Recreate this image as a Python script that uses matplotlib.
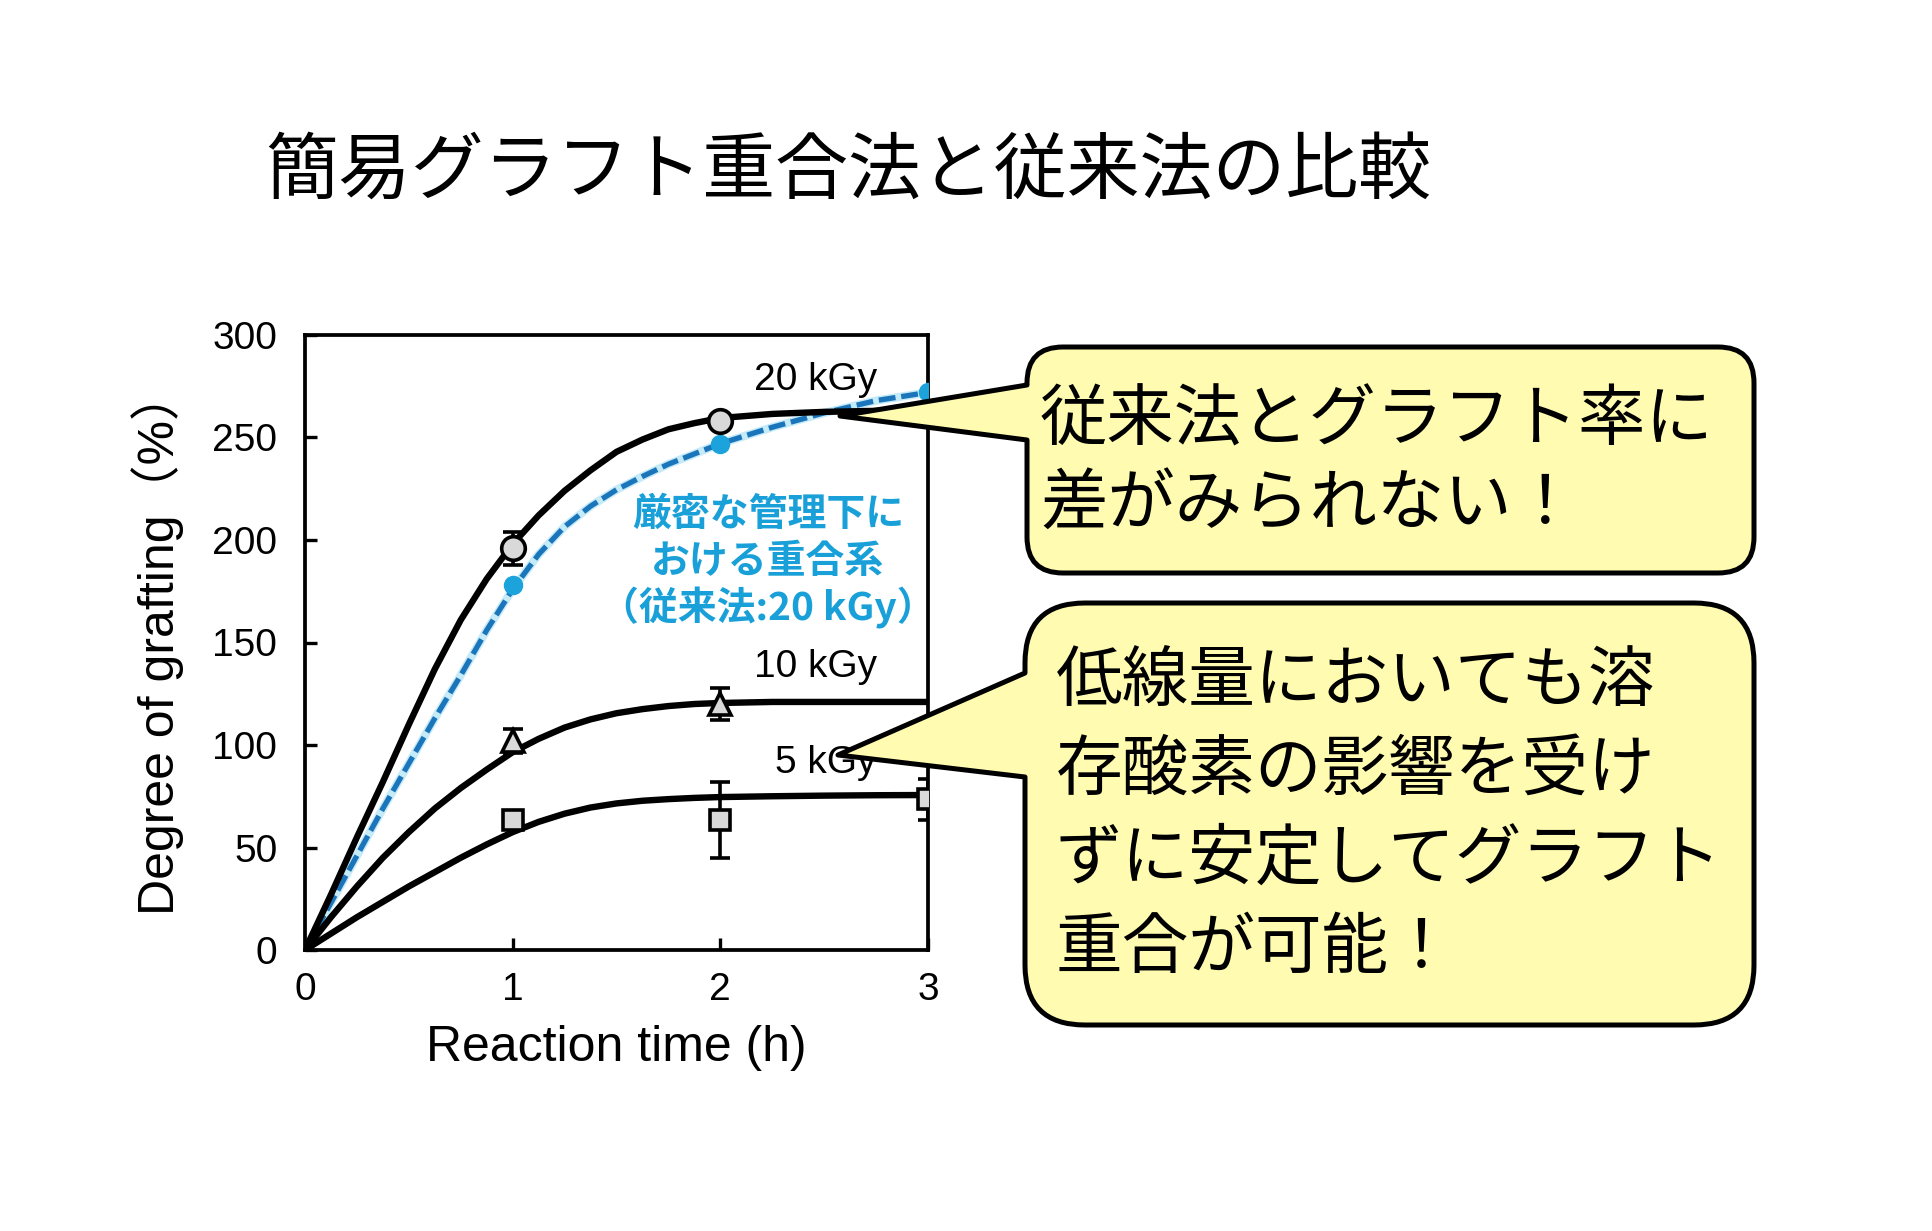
import numpy as np
import matplotlib
matplotlib.use("Agg")
import matplotlib.pyplot as plt
from matplotlib.path import Path
from matplotlib.patches import PathPatch

plt.rcParams['font.family'] = ['Liberation Sans', 'Noto Sans CJK JP', 'DejaVu Sans']

# measured points (h, %)
t20 = [1, 2]
g20 = [196, 258]
e20 = [8, 2]
t10 = [1, 2]
g10 = [102, 120]
e10 = [6, 8]
t5 = [1, 2, 3]
g5 = [63.5, 63.5, 73.5]
e5 = [2, 18.5, 10]
t_conv = [1, 2, 3]
g_conv = [178, 247, 272]

# fitted curves
curve_t = [0, 0.125, 0.25, 0.375, 0.5, 0.625, 0.75, 0.875, 1.0, 1.125, 1.25,
           1.375, 1.5, 1.625, 1.75, 1.875, 2.0, 2.25, 2.5, 2.75, 3.0]
fit20 = [0, 27, 55, 82, 110, 137, 161, 181, 198, 212, 224,
         234, 243, 249, 254, 257, 259.5, 261.5, 262.5, 263, 263]
fit_conv = [0, 23, 46, 69, 91, 113, 134, 156, 176, 193, 206.5,
            216.5, 224.5, 231, 237, 242, 247, 255, 262, 268, 272]
fit10 = [0, 16, 31, 45, 57.5, 69, 79, 88, 96.5, 103, 108.5,
         112.5, 115.5, 117.5, 119, 120, 120.5, 121, 121, 121, 121]
fit5 = [0, 8, 16, 23.5, 31, 38, 45, 51.5, 57.5, 62.5, 66.5,
        69.5, 71.5, 72.8, 73.6, 74.2, 74.6, 75, 75.3, 75.5, 75.6]

xticks = [0, 1, 2, 3]
yticks = [0, 50, 100, 150, 200, 250, 300]

title = "簡易グラフト重合法と従来法の比較"
note_blue = ["厳密な管理下に", "おける重合系", "（従来法:20 kGy）"]
box1_lines = ["従来法とグラフト率に", "差がみられない！"]
box2_lines = ["低線量においても溶", "存酸素の影響を受け", "ずに安定してグラフト", "重合が可能！"]

W, H = 1933, 1231
fig = plt.figure(figsize=(W / 100, H / 100), dpi=100)
ax = fig.add_axes([305 / W, 1 - 950 / H, 623 / W, 615 / H])

blue_line = '#1b75bb'
blue_dot = '#1ca3dc'
gray = '#d9d9d9'

ax.plot(curve_t, fit_conv, color='#c6ebf8', lw=6.0, solid_capstyle='butt', zorder=2)
ax.plot(curve_t, fit_conv, color=blue_line, lw=3.8, dashes=(3.2, 1.1), zorder=3)
for f in (fit20, fit10, fit5):
    ax.plot(curve_t, f, color='black', lw=4.6, solid_joinstyle='round', zorder=3)

ax.plot(t_conv, g_conv, 'o', color=blue_dot, ms=13, mec=blue_dot, zorder=4)
err_kw = dict(ecolor='black', elinewidth=2.6, capsize=7, capthick=2.6, ls='none',
              mfc=gray, mec='black', mew=2.6, zorder=5)
ax.errorbar(t20, g20, yerr=e20, fmt='o', ms=17, **err_kw)
ax.errorbar(t10, g10, yerr=e10, fmt='^', ms=16, **err_kw)
ax.errorbar(t5, g5, yerr=e5, fmt='s', ms=15, **err_kw)

ax.text(2.754, 278, "20 kGy", fontsize=28, ha='right', va='center')
ax.text(2.754, 138, "10 kGy", fontsize=28, ha='right', va='center')
ax.text(2.754, 91, "5 kGy", fontsize=28, ha='right', va='center')

ax.set_xlim(0, 3)
ax.set_ylim(0, 300)
ax.set_xticks(xticks)
ax.set_yticks(yticks)
ax.tick_params(direction='in', length=8.5, width=2.4, labelsize=28)
ax.tick_params(axis='x', pad=16)
ax.tick_params(axis='y', pad=20)
for s in ax.spines.values():
    s.set_linewidth(2.7)
ax.set_xlabel("Reaction time (h)", fontsize=36, labelpad=12)
ax.set_ylabel("Degree of grafting（%）", fontsize=36, labelpad=20)

# overlay in pixel coordinates for title and callouts
ov = fig.add_axes([0, 0, 1, 1], zorder=10)
ov.set_xlim(0, W)
ov.set_ylim(H, 0)
ov.axis('off')
ov.patch.set_alpha(0)

fig.text(265 / W, 1 - 172 / H, title, fontsize=52.5, ha='left', va='center',
         family=['Noto Sans CJK JP'])


def callout(x0, y0, x1, y1, r, tip, b_top, b_bot):
    M, L, C = Path.MOVETO, Path.LINETO, Path.CURVE3
    verts = [(x0 + r, y0), (x1 - r, y0), (x1, y0), (x1, y0 + r),
             (x1, y1 - r), (x1, y1), (x1 - r, y1),
             (x0 + r, y1), (x0, y1), (x0, y1 - r),
             (x0, b_bot), tip, (x0, b_top),
             (x0, y0 + r), (x0, y0), (x0 + r, y0), (x0 + r, y0)]
    codes = [M, L, C, C, L, C, C, L, C, C, L, L, L, L, C, C, Path.CLOSEPOLY]
    ov.add_patch(PathPatch(Path(verts, codes), facecolor='#fffbb0', edgecolor='black',
                           lw=3.6, joinstyle='round'))


callout(1027, 347, 1754, 573, 36, (840, 416), 385, 440)
callout(1025, 603, 1754, 1025, 60, (838, 755), 673, 777)

for i, s in enumerate(box1_lines):
    ov.text(1040, 422 + i * 83, s, fontsize=48.5, ha='left', va='center',
            family=['Noto Sans CJK JP'])
for i, s in enumerate(box2_lines):
    ov.text(1056, 682 + i * 89, s, fontsize=48, ha='left', va='center',
            family=['Noto Sans CJK JP'])

for i, s in enumerate(note_blue):
    ax.text(768, 514 + i * 47, s, fontsize=28, ha='center', va='center', color='#19a0d8',
            fontweight='bold', family=['Noto Sans CJK JP'], transform=ov.transData)

fig.savefig("out.png", dpi=100, facecolor='white')
